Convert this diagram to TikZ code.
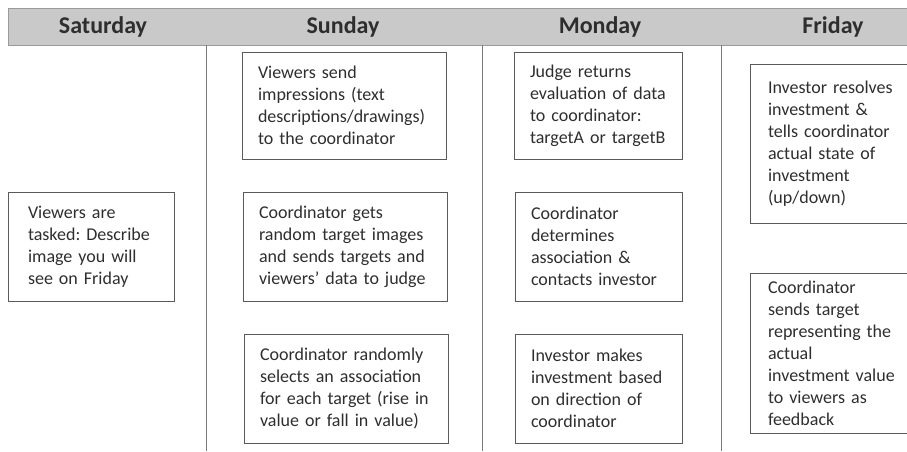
\documentclass[tikz,border=0pt]{standalone}
\usepackage{fontspec}
\setmainfont{Carlito}
\frenchspacing
\hyphenpenalty=10000
\exhyphenpenalty=10000
\definecolor{bandgray}{HTML}{C9C9C9}
\definecolor{rulegray}{HTML}{9A9A9A}
\definecolor{linegray}{HTML}{5A5A5A}
\definecolor{inkgray}{HTML}{2E2E2E}
\begin{document}
\begin{tikzpicture}[x=1pt,y=-1pt,
  day/.style={text=inkgray, font=\bfseries\fontsize{24}{28}\selectfont},
  task/.style={draw=linegray, line width=1pt, align=left, text=inkgray,
    inner xsep=16pt, inner ysep=0pt, minimum height=109pt,
    font=\fontsize{18}{22}\selectfont},
  divider/.style={draw=linegray!80, line width=0.9pt}]
\useasboundingbox (0,0) rectangle (907,451);
\clip (0,0) rectangle (907,451);
\path[fill=bandgray, draw=rulegray, line width=1pt] (8,8) rectangle (930,45);

\node[day] (sat) at (103,27) {Saturday};
\node[day] (sun) at (343,27) {Sunday};
\node[day] (mon) at (600,27) {Monday};
\node[day] (fri) at (833,27) {Friday};

\path[divider] (206,45) -- (206,451);
\path[divider] (482,45) -- (482,451);
\path[divider] (721,45) -- (721,451);

\node[task, inner xsep=20pt, text width=126pt] (sat1) at (91,246.5) {Viewers are\\ tasked: Describe\\ image you will\\ see on Friday};

\node[task, text width=172pt, minimum height=107pt] (sun1) at (344,105.5) {Viewers send\\ impressions (text\\ descriptions/drawings)\\ to the coordinator};
\node[task, text width=172pt] (sun2) at (345,246.5) {Coordinator gets\\ random target images\\ and sends targets and\\ viewers’ data to judge};
\node[task, text width=172pt] (sun3) at (346,388.5) {Coordinator randomly\\ selects an association\\ for each target (rise in\\ value or fall in value)};

\node[task, text width=136pt, minimum height=107pt] (mon1) at (598,105.5) {Judge returns\\ evaluation of data\\ to coordinator:\\ targetA or targetB};
\node[task, text width=135pt] (mon2) at (598.5,246.5) {Coordinator\\ determines\\ association \&\\ contacts investor};
\node[task, text width=135pt] (mon3) at (598.5,388.5) {Investor makes\\ investment based\\ on direction of\\ coordinator};

\node[task, inner xsep=18pt, text width=144pt, minimum height=159pt] (fri1) at (840,143.5) {Investor resolves\\ investment \&\\ tells coordinator\\ actual state of\\ investment\\ (up/down)};
\node[task, inner xsep=18pt, text width=144pt, minimum height=160pt] (fri2) at (840,353) {Coordinator\\ sends target\\ representing the\\ actual\\ investment value\\ to viewers as\\ feedback};
\end{tikzpicture}
\end{document}
